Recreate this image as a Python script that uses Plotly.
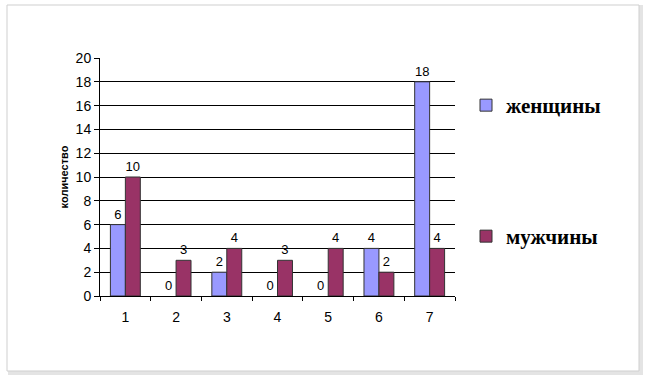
import plotly.graph_objects as go

categories = ["1", "2", "3", "4", "5", "6", "7"]
women = [6, 0, 2, 0, 0, 4, 18]
men = [10, 3, 4, 3, 4, 2, 4]
y_ticks = [0, 2, 4, 6, 8, 10, 12, 14, 16, 18, 20]

W, H = 647, 378
label_font = dict(family="Arial", size=13, color="#000000")


def edge_widths(vals):
    return [0 if v == 0 else 1 for v in vals]


fig = go.Figure()
fig.add_trace(go.Bar(
    x=categories, y=women, name="женщины",
    marker=dict(color="#9999FF", line=dict(color="#333333", width=edge_widths(women))),
    text=[str(v) for v in women], textposition="outside",
    textfont=label_font, cliponaxis=False, legend="legend",
))
fig.add_trace(go.Bar(
    x=categories, y=men, name="мужчины",
    marker=dict(color="#993366", line=dict(color="#333333", width=edge_widths(men))),
    text=[str(v) for v in men], textposition="outside",
    textfont=label_font, cliponaxis=False, legend="legend2",
))

left, right, top, bottom = 100, 455, 58, 296
legend_font = dict(family="Liberation Serif", size=21, color="#000000", weight="bold")
fig.update_layout(
    width=W, height=H,
    margin=dict(l=left, r=W - right, t=top, b=H - bottom),
    paper_bgcolor="#FFFFFF",
    plot_bgcolor="#C0C0C0",
    barmode="group",
    bargap=0.41,
    bargroupgap=0,
    showlegend=True,
    font=dict(family="Arial", size=13, color="#000000"),
    legend=dict(
        x=466 / W, y=1 - 85 / H, xref="container", yref="container",
        xanchor="left", yanchor="top", font=legend_font,
        bgcolor="rgba(0,0,0,0)", itemwidth=30,
    ),
    legend2=dict(
        x=466 / W, y=1 - 216 / H, xref="container", yref="container",
        xanchor="left", yanchor="top", font=legend_font,
        bgcolor="rgba(0,0,0,0)", itemwidth=30,
    ),
    xaxis=dict(
        type="category", showgrid=False, showline=True, linecolor="#000000",
        linewidth=1, ticks="outside", tickson="boundaries", ticklen=4,
        tickcolor="#000000", ticklabelstandoff=8,
        tickfont=dict(family="Arial", size=14),
    ),
    yaxis=dict(
        range=[0, 20], tickvals=y_ticks, showgrid=True, gridcolor="#000000",
        gridwidth=1, showline=True, linecolor="#000000", linewidth=1,
        ticks="outside", ticklen=5, tickcolor="#000000",
        tickfont=dict(family="Arial", size=14), zeroline=False,
        title=dict(text="<b>количество</b>", font=dict(family="Arial", size=11), standoff=4),
    ),
    shapes=[
        dict(type="rect", xref="paper", yref="paper",
             x0=(10 - left) / (right - left), x1=(641 - left) / (right - left),
             y0=(bottom - 373) / (bottom - top), y1=(bottom - 7) / (bottom - top),
             line=dict(color="#E4E4E4", width=4), layer="below"),
        dict(type="rect", xref="paper", yref="paper",
             x0=(7 - left) / (right - left), x1=(639 - left) / (right - left),
             y0=(bottom - 371) / (bottom - top), y1=(bottom - 5) / (bottom - top),
             line=dict(color="#CFCFCF", width=1), fillcolor="#FFFFFF", layer="below"),
    ],
)
fig.write_html("out.html")
